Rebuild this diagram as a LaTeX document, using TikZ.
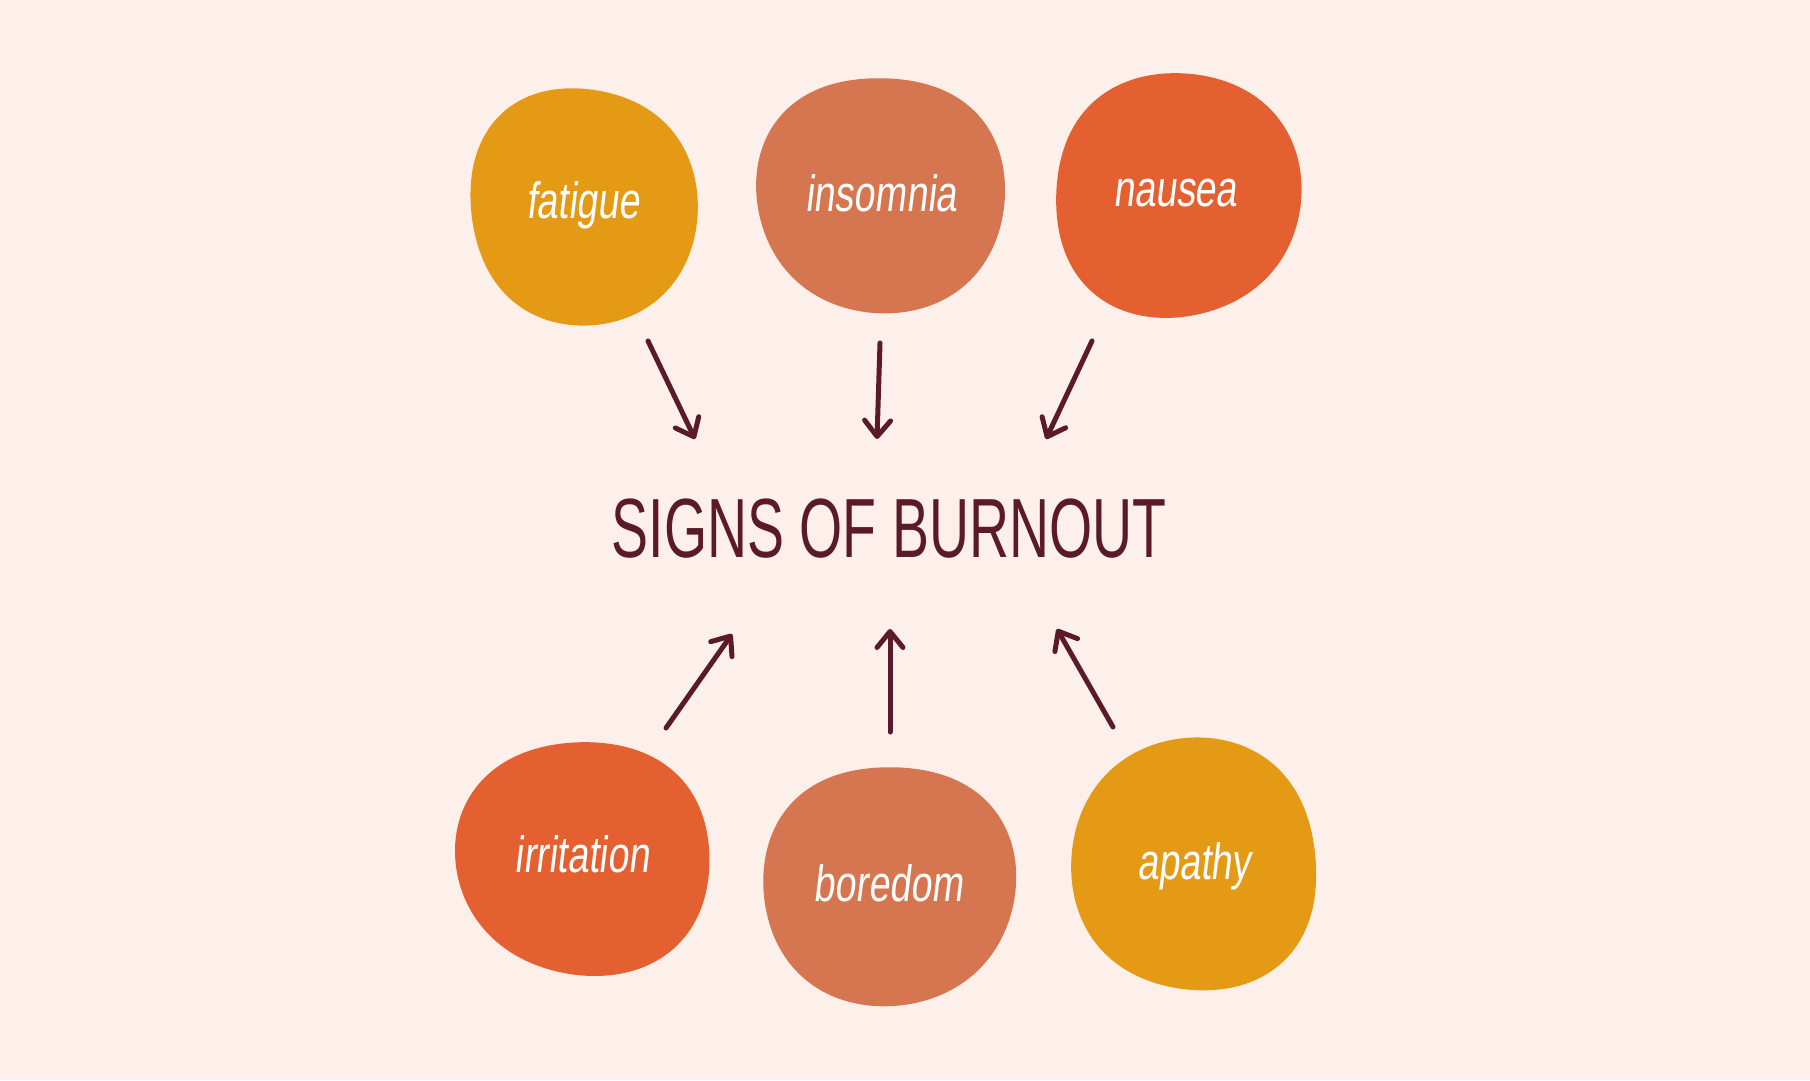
\documentclass[tikz,border=0pt]{standalone}
\usepackage{fontspec}
\setmainfont{Liberation Sans}
\newfontfamily\titlefont[FakeStretch=0.66]{Liberation Sans}
\newfontfamily\labelfont[FakeStretch=0.74,FakeSlant=0.12]{Liberation Sans}
\usetikzlibrary{arrows.meta}
\definecolor{bg}{HTML}{FDF0EB}
\definecolor{cyellow}{HTML}{E59A16}
\definecolor{csalmon}{HTML}{D57651}
\definecolor{corange}{HTML}{E46030}
\definecolor{cdark}{HTML}{5A1A2A}
\tikzset{
  lbl/.style={text=white,font=\labelfont\fontsize{51}{55}\selectfont,inner sep=0pt},
  ttl/.style={text=cdark,font=\titlefont\fontsize{84}{90}\selectfont,inner sep=0pt},
  arr/.style={draw=cdark,line width=5pt,line cap=round,line join=round,
    -{Straight Barb[length=16pt,width=26pt,line width=5pt,round]}}
}
% colour, cx, cy, rx, ry, phase1, phase2
\newcommand\myblob[7]{%
  \fill[#1] plot[smooth cycle,tension=0.6,domain=0:350,samples=36,variable=\t]
   ({#2+#4*cos(\t)*(1+0.018*sin(2*\t+#6)+0.015*cos(3*\t+#7)-0.013*cos(4*\t))},
    {#3+#5*sin(\t)*(1+0.018*sin(2*\t+#6)+0.015*cos(3*\t+#7)-0.013*cos(4*\t))});}
\begin{document}
\begin{tikzpicture}[x=1pt,y=-1pt]
\fill[bg] (0,0) rectangle (1810,1080);
\useasboundingbox (0,0) rectangle (1810,1080);

% blobs
\myblob{cyellow}{583}{206}{115}{120}{0}{40}
\myblob{csalmon}{881}{194}{124}{121}{60}{100}
\myblob{corange}{1177}{195}{125}{123}{200}{10}
\myblob{corange}{584}{858}{128}{119}{20}{150}
\myblob{csalmon}{889}{885}{126}{123}{120}{70}
\myblob{cyellow}{1195}{865}{126}{126}{300}{220}

% labels
\node[lbl] (fatigue) at (583,205) {fatigue};
\node[lbl] (insomnia) at (881,193) {insomnia};
\node[lbl] (nausea) at (1175,193) {nausea};
\node[lbl] (irritation) at (582,854) {irritation};
\node[lbl] (boredom) at (888,883) {boredom};
\node[lbl] (apathy) at (1194,866) {apathy};

% title
\node[ttl] (title) at (889,529) {SIGNS OF BURNOUT};

% arrow endpoints
\coordinate (a1s) at (648,341); \coordinate (a1e) at (695,439);
\coordinate (a2s) at (880,343); \coordinate (a2e) at (877,439);
\coordinate (a3s) at (1092,341); \coordinate (a3e) at (1046,439);
\coordinate (a4s) at (666,728); \coordinate (a4e) at (732,634);
\coordinate (a5s) at (890,732); \coordinate (a5e) at (890,629);
\coordinate (a6s) at (1113,727); \coordinate (a6e) at (1057,629);

\draw[arr] (a1s) -- (a1e);
\draw[arr] (a2s) -- (a2e);
\draw[arr] (a3s) -- (a3e);
\draw[arr] (a4s) -- (a4e);
\draw[arr] (a5s) -- (a5e);
\draw[arr] (a6s) -- (a6e);
\end{tikzpicture}
\end{document}
